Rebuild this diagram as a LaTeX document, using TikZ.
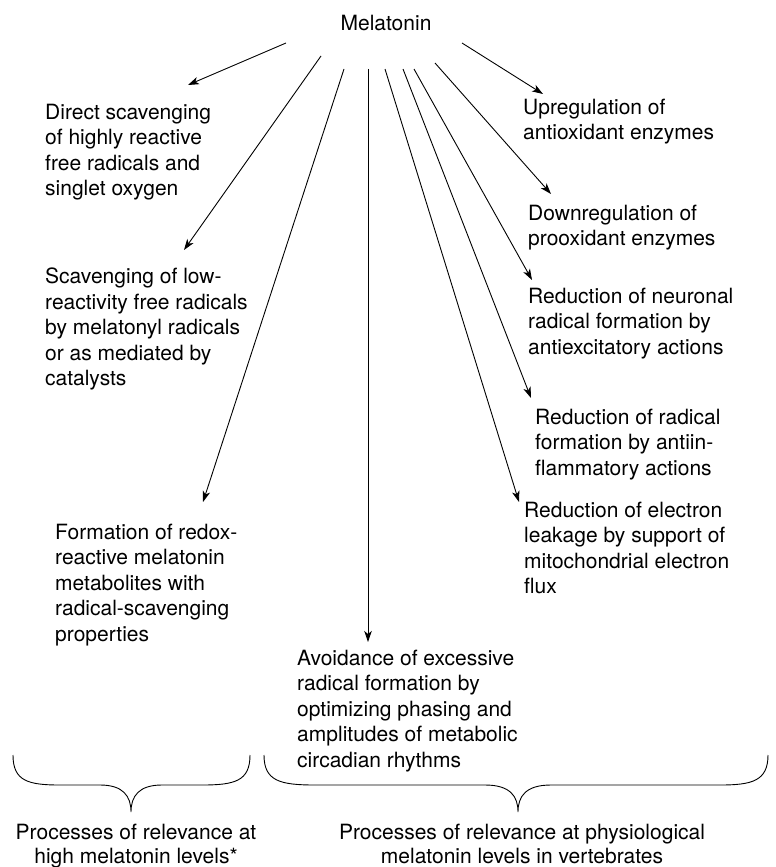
\documentclass[tikz,border=0pt]{standalone}
\usepackage{fontspec}
\setmainfont{TeX Gyre Heros}
\usepackage{tikz}
\usetikzlibrary{arrows.meta, positioning}

\tikzset{
    effect/.style={anchor=north west, align=left, inner sep=0pt},
    levels/.style={align=center, inner sep=0pt, font=\fontsize{21}{23.5}\selectfont},
    action/.style={-{Stealth[length=11pt,width=7.5pt,inset=3pt]}, line width=0.9pt},
    bracket/.style={line width=0.9pt},
}

\begin{document}
\begin{tikzpicture}[
        x=1pt, y=-1pt, % one unit is one pixel of the page, y runs downwards
        font=\fontsize{21}{25.4}\selectfont,
        >=Stealth,
    ]
    \useasboundingbox (0,0) rectangle (776,867);

    % --- SOURCE ---
    \node[inner sep=0pt, anchor=north] (mel) at (386,15) {Melatonin};

    % Start points of the arrows round the source
    \coordinate (mel-direct)    at (286,43);
    \coordinate (mel-lowreact)  at (321,56);
    \coordinate (mel-redox)     at (344,69);
    \coordinate (mel-rhythm)    at (368,69);
    \coordinate (mel-electron)  at (385,69);
    \coordinate (mel-antiinfl)  at (403,69);
    \coordinate (mel-neuronal)  at (414,69);
    \coordinate (mel-downreg)   at (435,63);
    \coordinate (mel-upreg)     at (462,43);

    % --- EFFECTS AT HIGH LEVELS (left) ---
    \node[effect] (direct) at (45,104)
        {Direct scavenging\\of highly reactive\\free radicals and\\singlet oxygen};
    \node[effect] (lowreact) at (45,268)
        {Scavenging of low-\\reactivity free radicals\\by melatonyl radicals\\or as mediated by\\catalysts};
    \node[effect] (redox) at (55,524)
        {Formation of redox-\\reactive melatonin\\metabolites with\\radical-scavenging\\properties};

    % --- EFFECTS AT PHYSIOLOGICAL LEVELS (middle and right) ---
    \node[effect] (rhythm) at (297,650)
        {Avoidance of excessive\\radical formation by\\optimizing phasing and\\amplitudes of metabolic\\circadian rhythms};
    \node[effect] (upreg) at (523,99)
        {Upregulation of\\antioxidant enzymes};
    \node[effect] (downreg) at (528,205)
        {Downregulation of\\prooxidant enzymes};
    \node[effect] (neuronal) at (528,288)
        {Reduction of neuronal\\radical formation by\\antiexcitatory actions};
    \node[effect] (antiinfl) at (535,409)
        {Reduction of radical\\formation by antiin-\\flammatory actions};
    \node[effect] (electron) at (524,502)
        {Reduction of electron\\leakage by support of\\mitochondrial electron\\flux};

    % --- ARROWS ---
    \draw[action] (mel-direct)   -- ([shift={(143,-19)}]direct.north west);
    \draw[action] (mel-lowreact) -- ([shift={(139,-18)}]lowreact.north west);
    \draw[action] (mel-redox)    -- ([shift={(148,-22)}]redox.north west);
    \draw[action] (mel-rhythm)   -- ([shift={(71,-8)}]rhythm.north west);
    \draw[action] (mel-electron) -- ([shift={(-5,0)}]electron.north west);
    \draw[action] (mel-antiinfl) -- ([shift={(-4,-11)}]antiinfl.north west);
    \draw[action] (mel-neuronal) -- ([shift={(4,-8)}]neuronal.north west);
    \draw[action] (mel-downreg)  -- ([shift={(23,-11)}]downreg.north west);
    \draw[action] (mel-upreg)    -- ([shift={(20,-5)}]upreg.north west);

    % --- BRACES ---
    \draw[bracket] (13,755) .. controls (13,781) and (28,785) .. (60,785) -- (100,785)
        .. controls (123,785) and (131,796) .. (131,812)
        .. controls (131,796) and (139,785) .. (162,785) -- (202,785)
        .. controls (235,785) and (250,781) .. (250,755);
    \coordinate (hightip) at (131,812);

    \draw[bracket] (264,755) .. controls (264,781) and (280,785) .. (315,785) -- (485,785)
        .. controls (510,785) and (518,796) .. (518,812)
        .. controls (518,796) and (526,785) .. (551,785) -- (720,785)
        .. controls (752,785) and (768,781) .. (768,755);
    \coordinate (phystip) at (518,812);

    % Labels under the braces
    \node[levels, below=12pt of hightip, xshift=5pt] (highlvl)
        {Processes of relevance at\\high melatonin levels*};
    \node[levels, below=12pt of phystip, xshift=4pt] (physlvl)
        {Processes of relevance at physiological\\melatonin levels in vertebrates};

\end{tikzpicture}
\end{document}
